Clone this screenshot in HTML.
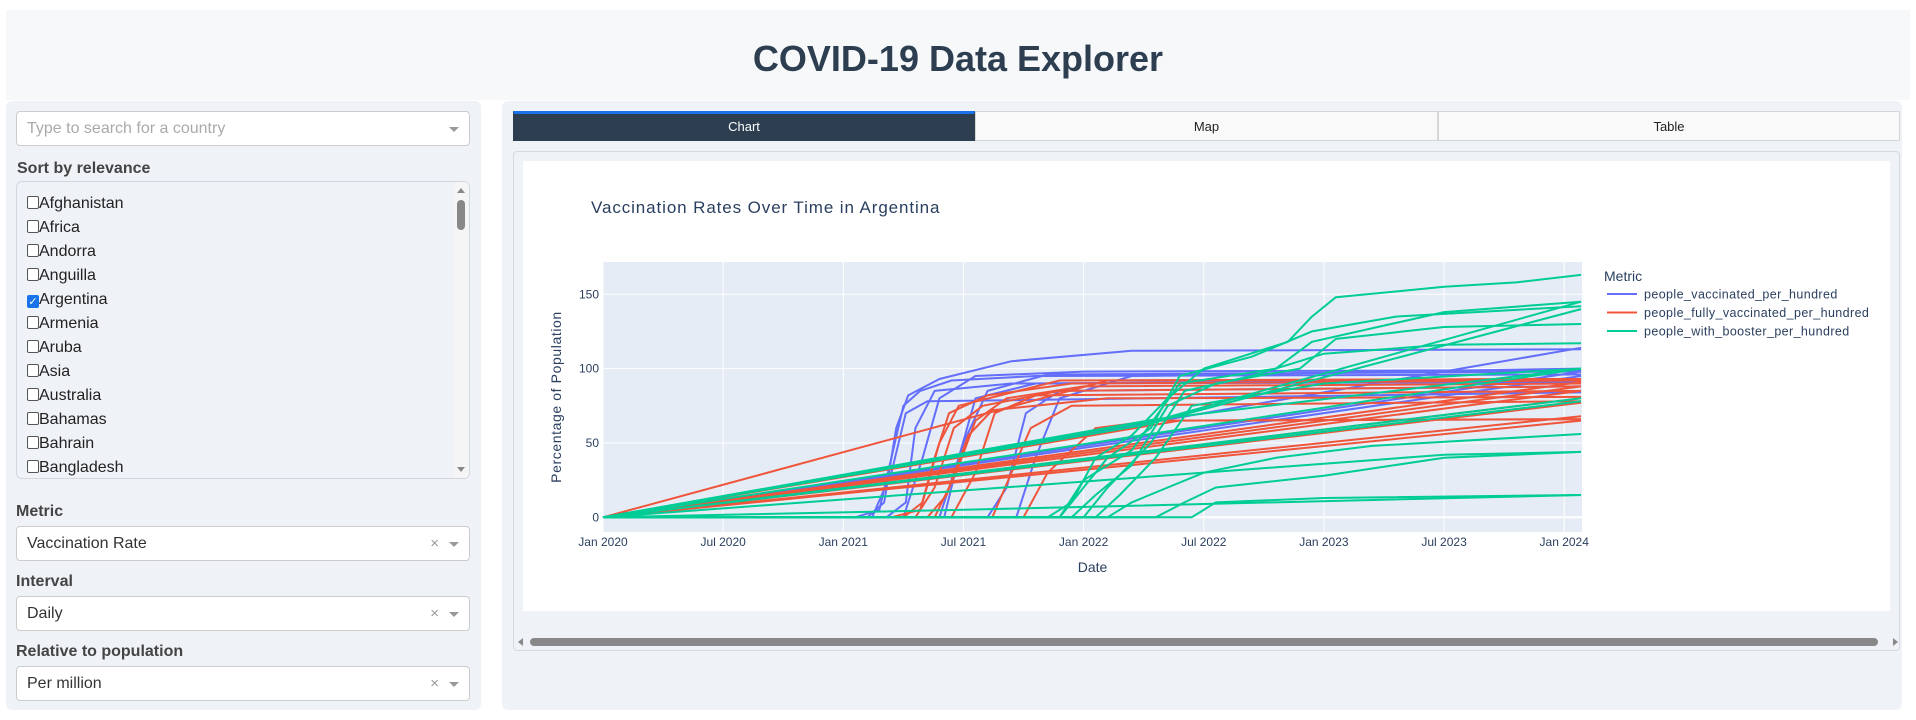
<!DOCTYPE html>
<html><head><meta charset="utf-8"><style>
*{box-sizing:border-box}
body{margin:0;width:1916px;height:720px;background:#fff;font-family:"Liberation Sans",Arial,sans-serif;position:relative;overflow:hidden}
.abs{position:absolute}
.header{left:6px;top:10px;width:1904px;height:90px;background:#f7f8fa}
.header h1{margin:0;position:absolute;left:0;right:0;top:28px;text-align:center;font-size:36px;color:#2c3e50;font-weight:bold}
.panel{background:#eff2f7;border-radius:6px}
.dd{background:#fff;border:1px solid #ccc;border-radius:4px;font-size:16px;color:#333;padding-left:10px;line-height:33px}
.dd .x{position:absolute;right:30px;top:0;color:#999;font-size:15px}
.dd .caret{position:absolute;right:10px;top:15px;width:0;height:0;border-left:5px solid transparent;border-right:5px solid transparent;border-top:5px solid #999}
.lbl{font-size:16px;font-weight:bold;color:#444}
.item{position:absolute;left:10px;font-size:16px;color:#222;height:24px;line-height:24px}
.cb{display:inline-block;width:12px;height:13px;border:1px solid #555;border-radius:2px;vertical-align:-1px;background:#fff}
.cb.on{background:#1a73e8;border-color:#1a73e8;color:#fff;font-size:11px;line-height:12px;text-align:center}
.tab{top:111px;height:30px;font-size:13px;text-align:center;line-height:30px;border:1px solid #d6d6d6;background:#f9f9f9;color:#222}
</style></head><body>
<div class="abs header"><h1>COVID-19 Data Explorer</h1></div>

<div class="abs panel" style="left:6px;top:101px;width:475px;height:609px">
  <div class="abs dd" style="left:10px;top:10px;width:454px;height:35px;color:#aaa">Type to search for a country<span class="caret"></span></div>
  <div class="abs lbl" style="left:11px;top:59px">Sort by relevance</div>
  <div class="abs" style="left:10px;top:80px;width:454px;height:298px;border:1px solid #d4d8de;border-radius:6px;background:#eff2f7;overflow:hidden">
    <div class="item" style="top:10px"><span class="cb"></span>Afghanistan</div>
    <div class="item" style="top:34px"><span class="cb"></span>Africa</div>
    <div class="item" style="top:58px"><span class="cb"></span>Andorra</div>
    <div class="item" style="top:82px"><span class="cb"></span>Anguilla</div>
    <div class="item" style="top:106px"><span class="cb on">✓</span>Argentina</div>
    <div class="item" style="top:130px"><span class="cb"></span>Armenia</div>
    <div class="item" style="top:154px"><span class="cb"></span>Aruba</div>
    <div class="item" style="top:178px"><span class="cb"></span>Asia</div>
    <div class="item" style="top:202px"><span class="cb"></span>Australia</div>
    <div class="item" style="top:226px"><span class="cb"></span>Bahamas</div>
    <div class="item" style="top:250px"><span class="cb"></span>Bahrain</div>
    <div class="item" style="top:274px"><span class="cb"></span>Bangladesh</div>
    <div class="abs" style="right:0;top:0;width:15px;height:298px;background:#f5f5f5">
      <div class="abs" style="left:3px;top:6px;border-left:4px solid transparent;border-right:4px solid transparent;border-bottom:5px solid #888"></div>
      <div class="abs" style="left:3px;top:18px;width:8px;height:30px;border-radius:4px;background:#888"></div>
      <div class="abs" style="left:3px;bottom:8px;border-left:4px solid transparent;border-right:4px solid transparent;border-top:5px solid #888"></div>
    </div>
  </div>
  <div class="abs lbl" style="left:10px;top:402px">Metric</div>
  <div class="abs dd" style="left:10px;top:425px;width:454px;height:35px">Vaccination Rate<span class="x">×</span><span class="caret"></span></div>
  <div class="abs lbl" style="left:10px;top:472px">Interval</div>
  <div class="abs dd" style="left:10px;top:495px;width:454px;height:35px">Daily<span class="x">×</span><span class="caret"></span></div>
  <div class="abs lbl" style="left:10px;top:542px">Relative to population</div>
  <div class="abs dd" style="left:10px;top:565px;width:454px;height:35px">Per million<span class="x">×</span><span class="caret"></span></div>
</div>

<div class="abs panel" style="left:502px;top:101px;width:1400px;height:609px"></div>
<div class="abs tab" style="left:513px;width:462px;background:#2c3e50;color:#fff;border-color:#2c3e50;border-top:3px solid #1a73e8;line-height:26px">Chart</div>
<div class="abs tab" style="left:975px;width:463px">Map</div>
<div class="abs tab" style="left:1438px;width:462px">Table</div>
<div class="abs" style="left:513px;top:151px;width:1387px;height:500px;border:1px solid #d6d9de;border-radius:4px"></div>
<div class="abs" style="left:523px;top:161px;width:1367px;height:450px;background:#fff"></div>
<div class="abs" style="left:518px;top:636px;width:1380px;height:12px">
  <div class="abs" style="left:0;top:2px;border-top:4px solid transparent;border-bottom:4px solid transparent;border-right:5px solid #888"></div>
  <div class="abs" style="left:12px;top:2px;width:1348px;height:8px;border-radius:4px;background:#888"></div>
  <div class="abs" style="right:0;top:2px;border-top:4px solid transparent;border-bottom:4px solid transparent;border-left:5px solid #888"></div>
</div>

<svg class="abs" id="chart" style="left:0;top:0" width="1916" height="720" font-family="Liberation Sans, Arial, sans-serif"></svg>

<script>
const xTickLabels=["Jan 2020","Jul 2020","Jan 2021","Jul 2021","Jan 2022","Jul 2022","Jan 2023","Jul 2023","Jan 2024"];
const xTickValues=[0,0.5,1,1.5,2,2.5,3,3.5,4];
const yTickValues=[0,50,100,150];
const metricNames=["people_vaccinated_per_hundred","people_fully_vaccinated_per_hundred","people_with_booster_per_hundred"];
const metricColors=["#636efa","#ef553b","#00cc96"];
// series: [years since Jan 2020, value]
const vaccinatedSeries=[
[[0,0],[1.05,0],[1.15,5],[1.2,40],[1.25,75],[1.32,85],[1.45,92],[1.8,95],[4.07,96]],
[[0,0],[1.1,0],[1.17,10],[1.22,60],[1.27,82],[1.4,93],[1.7,105],[2.2,112],[4.07,113]],
[[0,0],[1.18,0],[1.26,10],[1.3,60],[1.38,85],[1.7,90],[4.07,91]],
[[0,0],[1.25,0],[1.33,40],[1.4,80],[1.55,95],[2,98],[4.07,99]],
[[0,0],[1.4,0],[1.5,50],[1.6,85],[1.85,96],[4.07,98]],
[[0,0],[1.6,0],[1.68,20],[1.76,70],[1.9,85],[4.07,88]],
[[0,0],[1.12,0],[1.2,30],[1.26,70],[1.35,78],[4.07,84]],
[[0,0],[4.07,98]],
[[0,0],[4.07,114]],
[[0,0],[1.42,0],[1.48,40],[1.55,80],[1.8,90],[4.07,93]],
[[0,0],[1.72,0],[1.8,40],[1.9,80],[2.2,95],[4.07,100]],
[[0,0],[4.07,95]]
];
const fullyVaccinatedSeries=[
[[0,0],[1.2,0],[1.32,5],[1.38,40],[1.44,70],[1.6,82],[1.95,90],[4.07,92]],
[[0,0],[1.3,0],[1.38,20],[1.46,60],[1.58,75],[1.9,85],[4.07,88]],
[[0,0],[1.38,0],[1.47,30],[1.55,65],[1.68,80],[2.0,88],[4.07,90]],
[[0,0],[1.45,0],[1.55,30],[1.63,70],[1.8,82],[4.07,85]],
[[0,0],[1.62,0],[1.7,30],[1.78,60],[1.95,75],[4.07,78]],
[[0,0],[1.75,0],[1.85,30],[2.05,60],[2.3,65],[4.07,66]],
[[0,0],[1.25,0],[1.33,10],[1.4,50],[1.48,75],[1.9,92],[4.07,93]],
[[0,0],[1.35,0],[1.43,15],[1.52,55],[1.62,72],[2.1,80],[4.07,81]],
[[0,0],[4.07,65]],
[[0,0],[4.07,68]],
[[0,0],[4.07,80]],
[[0,0],[4.07,85]],
[[0,0],[4.07,88]],
[[0,0],[4.07,77]],
[[0,0],[4.07,91]],
[[0,0],[2.4,65],[4.07,66]],
[[0,0],[2.1,92],[4.07,93]]
];
const boosterSeries=[
[[0,0],[1.85,0],[1.95,10],[2.05,40],[2.2,55],[2.35,80],[2.5,100],[2.85,118],[2.95,135],[3.05,148],[3.5,155],[3.8,158],[4.07,163]],
[[0,0],[1.9,0],[2.0,20],[2.1,40],[2.28,60],[2.4,95],[2.7,108],[2.95,125],[3.3,135],[4.07,142]],
[[0,0],[1.95,0],[2.05,15],[2.2,35],[2.35,75],[2.55,90],[2.9,100],[3.05,120],[3.5,128],[4.07,130]],
[[0,0],[2.0,0],[2.1,20],[2.28,50],[2.42,85],[2.7,95],[3.0,110],[3.5,116],[4.07,117]],
[[0,0],[2.05,0],[2.15,15],[2.3,40],[2.45,75],[3,90],[4.07,100]],
[[0,0],[2.1,0],[2.2,10],[2.35,20],[2.5,30],[2.8,40],[3.2,48],[4.07,56]],
[[0,0],[2.3,0],[2.42,10],[2.55,20],[3,28],[3.5,40],[4.07,44]],
[[0,0],[2.45,0],[2.55,10],[3,13],[4.07,15]],
[[0,0],[1.9,0],[2.0,25],[2.2,45],[2.4,90],[2.8,100],[2.95,118],[3.5,138],[4.07,145]],
[[0,0],[2.3,65],[4.07,145]],
[[0,0],[2.25,62],[4.07,140]],
[[0,0],[4.07,100]],
[[0,0],[4.07,80]],
[[0,0],[4.07,78]],
[[0,0],[2.3,66],[4.07,100]],
[[0,0],[3.5,42],[4.07,44]],
[[0,0],[1.5,5],[4.07,15]]
];
const allSeries=[vaccinatedSeries,fullyVaccinatedSeries,boosterSeries];

const svg=document.getElementById('chart');
const NS='http://www.w3.org/2000/svg';
const PL=603,PR=1582,PT=262,PB=532;
const xMin=0,xMax=4.074,yMin=-9.9,yMax=171.7;
function xs(t){return PL+(t-xMin)/(xMax-xMin)*(PR-PL);}
function ys(v){return PB-(v-yMin)/(yMax-yMin)*(PB-PT);}
function mk(tag,attrs,parent){const e=document.createElementNS(NS,tag);for(const k in attrs)e.setAttribute(k,attrs[k]);(parent||svg).appendChild(e);return e;}

const bg=mk('rect',{x:PL,y:PT,width:PR-PL,height:PB-PT,fill:'#e5ecf6'});


xTickValues.forEach((v,i)=>{
  const g=mk('line',{x1:xs(v),x2:xs(v),y1:PT,y2:PB,stroke:'#fff','stroke-width':1});
  
  
  const t=mk('text',{x:xs(v),y:PB+14,'text-anchor':'middle','font-size':12,fill:'#2a3f5f'});
  t.textContent=xTickLabels[i];
  
  
});
yTickValues.forEach(v=>{
  const g=mk('line',{x1:PL,x2:PR,y1:ys(v),y2:ys(v),stroke:'#fff','stroke-width':v===0?2:1});
  
  
  const t=mk('text',{x:PL-4,y:ys(v)+4,'text-anchor':'end','font-size':12,fill:'#2a3f5f'});
  t.textContent=String(v);
  
  
});
allSeries.forEach((group,mi)=>{
  group.forEach(pts=>{
    const d=pts.map((p,i)=>(i?'L':'M')+xs(p[0]).toFixed(1)+','+ys(p[1]).toFixed(1)).join('');
    const p=mk('path',{d:d,fill:'none',stroke:metricColors[mi],'stroke-width':2,'stroke-linejoin':'round'});
    
    
  });
});
const title=mk('text',{x:591,y:213,'font-size':17,fill:'#2a3f5f','letter-spacing':'0.9'});
title.textContent='Vaccination Rates Over Time in Argentina';


const xt=mk('text',{x:(PL+PR)/2,y:572,'text-anchor':'middle','font-size':14,fill:'#2a3f5f'});
xt.textContent='Date';


const yt=mk('text',{x:0,y:0,'text-anchor':'middle','font-size':14,fill:'#2a3f5f','letter-spacing':'0.6',transform:'translate(561,397) rotate(-90)'});
yt.textContent='Percentage of Population';


const lt=mk('text',{x:1604,y:281,'font-size':14,fill:'#2a3f5f'});
lt.textContent='Metric';


metricNames.forEach((n,i)=>{
  const y=294+i*18.5;
  const l=mk('line',{x1:1607,x2:1637,y1:y,y2:y,stroke:metricColors[i],'stroke-width':2});
  
  
  const t=mk('text',{x:1644,y:y+4.5,'font-size':12.5,fill:'#2a3f5f','letter-spacing':'0.4'});
  t.textContent=n;
  
  
});
</script>
</body></html>
